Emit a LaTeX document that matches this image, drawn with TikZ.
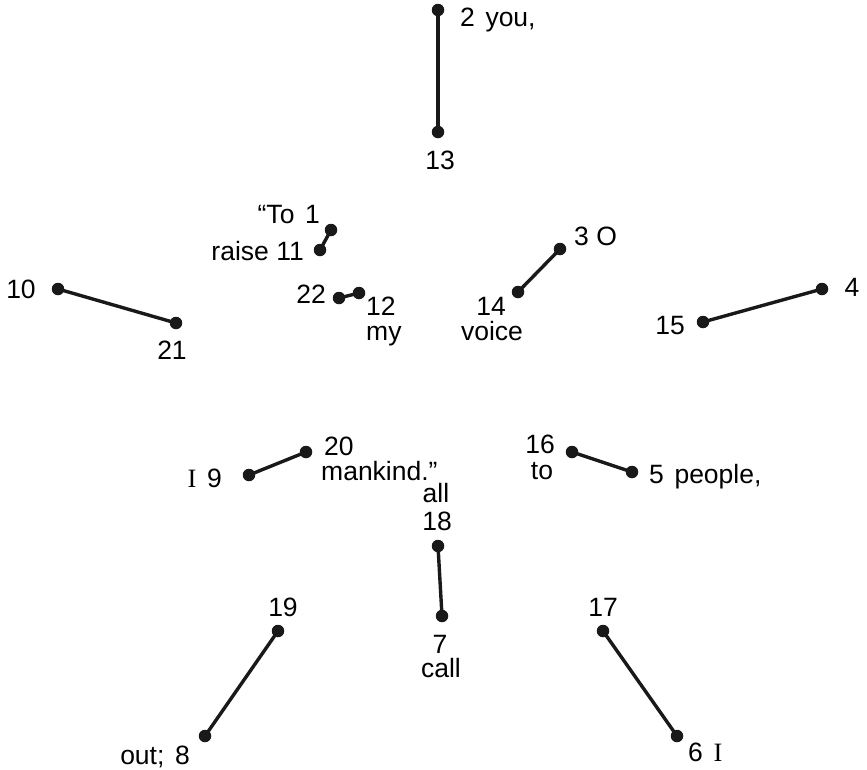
\documentclass[tikz,border=0pt]{standalone}
\usepackage{fontspec}
\setmainfont{Liberation Sans}
\newfontfamily\serifI{Liberation Serif}
\begin{document}
\begin{tikzpicture}[x=1pt,y=-1pt,
  dot/.style={circle,fill=black!90,inner sep=0pt,minimum size=12.5pt},
  seg/.style={line width=3.4pt,black!90},
  lbl/.style={inner sep=0pt,font=\fontsize{26.5}{30}\selectfont},
  lw/.style={lbl,anchor=base west},
  le/.style={lbl,anchor=base east},
  lc/.style={lbl,anchor=base}]
\useasboundingbox (0,0) rectangle (867,769);
% dots
\node[dot] (d2) at (438,10) {};
\node[dot] (d13) at (438,132) {};
\node[dot] (d1) at (331,230) {};
\node[dot] (d11) at (320,250) {};
\node[dot] (d22) at (339,298) {};
\node[dot] (d12) at (359,293) {};
\node[dot] (d3) at (560,249) {};
\node[dot] (d14) at (518,292) {};
\node[dot] (d10) at (58,289) {};
\node[dot] (d21) at (176,323) {};
\node[dot] (d4) at (822,289) {};
\node[dot] (d15) at (703,322) {};
\node[dot] (d20) at (306,452) {};
\node[dot] (d9) at (249,475) {};
\node[dot] (d16) at (572,452) {};
\node[dot] (d5) at (632,472) {};
\node[dot] (d18) at (438,546) {};
\node[dot] (d7) at (442,616) {};
\node[dot] (d19) at (278,631) {};
\node[dot] (d8) at (205,736) {};
\node[dot] (d17) at (603,631) {};
\node[dot] (d6) at (677,736) {};
% segments
\draw[seg] (d2.center) -- (d13.center);
\draw[seg] (d1.center) -- (d11.center);
\draw[seg] (d22.center) -- (d12.center);
\draw[seg] (d3.center) -- (d14.center);
\draw[seg] (d10.center) -- (d21.center);
\draw[seg] (d4.center) -- (d15.center);
\draw[seg] (d20.center) -- (d9.center);
\draw[seg] (d16.center) -- (d5.center);
\draw[seg] (d18.center) -- (d7.center);
\draw[seg] (d19.center) -- (d8.center);
\draw[seg] (d17.center) -- (d6.center);
% labels
\node[lw] (t2) at (460,26) {2\hspace{0.4em}you,};
\node[lc] (t13) at (440,169) {13};
\node[le] (t1) at (320,223) {“To\hspace{0.4em}1};
\node[le] (t11) at (304,260) {raise 11};
\node[le] (t22) at (326,303) {22};
\node[lw] (t12) at (366,315) {12};
\node[lw] (tmy) at (366,340) {my};
\node[lw] (t3) at (574,245) {3 O};
\node[lc] (t14) at (491,315) {14};
\node[lc] (tvoice) at (492,340) {voice};
\node[lc] (t10) at (21,298) {10};
\node[lc] (t21) at (172,359) {21};
\node[lc] (t4) at (852,296) {4};
\node[lc] (t15) at (670,334) {15};
\node[lw] (t20) at (324,455) {20};
\node[lw] (tmankind) at (321,480) {mankind.”};
\node[le] (t9) at (222,487) {{\serifI I}\hspace{0.4em}9};
\node[lc] (t16) at (540,453) {16};
\node[lc] (tto) at (542,479) {to};
\node[lw] (t5) at (649,483) {5\hspace{0.4em}people,};
\node[lc] (tall) at (436,502) {all};
\node[lc] (t18) at (437,530) {18};
\node[lc] (t7) at (440,653) {7};
\node[lc] (tcall) at (441,677) {call};
\node[lc] (t19) at (283,616) {19};
\node[le] (t8) at (190,764) {out;\hspace{0.4em}8};
\node[lc] (t17) at (603,616) {17};
\node[lw] (t6) at (688,761) {6\hspace{0.4em}{\serifI I}};
\end{tikzpicture}
\end{document}
